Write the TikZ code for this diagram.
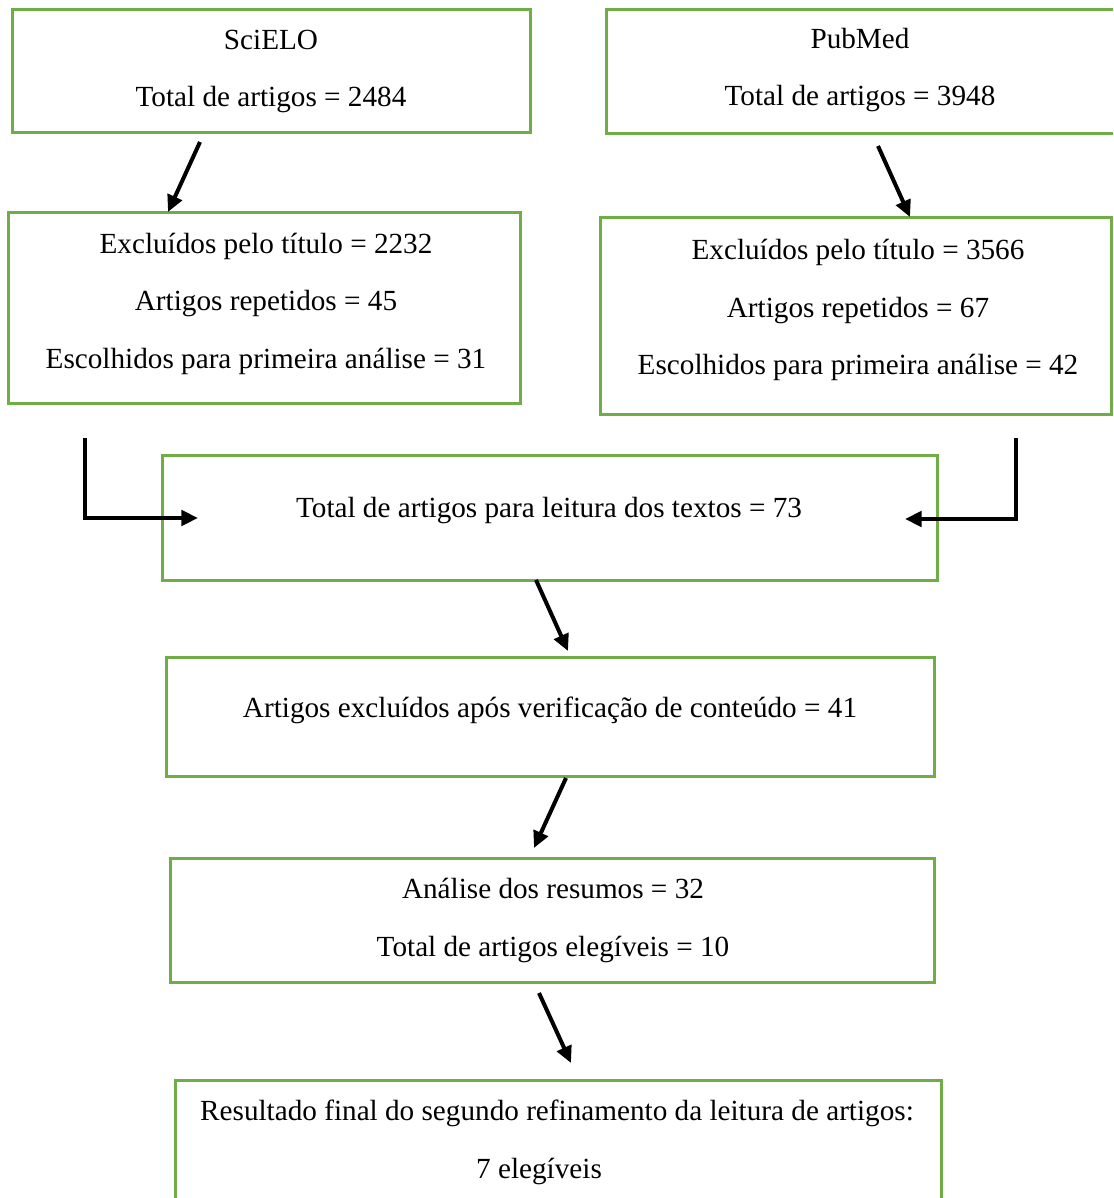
\documentclass[tikz,border=0pt]{standalone}
\usepackage{fontspec}
\setmainfont{Liberation Serif}
\usetikzlibrary{arrows.meta}
\definecolor{boxgreen}{HTML}{70AD47}
\begin{document}
\begin{tikzpicture}[x=0.75pt,y=-0.75pt,
  box/.style={draw=boxgreen, line width=2.25pt, rectangle, inner sep=0pt},
  txt/.style={font=\fontsize{21.9}{43.1}\selectfont, align=center, inner sep=0pt},
  arr/.style={line width=3pt, -{Triangle[length=12.5pt,width=11.5pt]}}]
\useasboundingbox (0,0) rectangle (1113,1198);
\clip (0,0) rectangle (1113,1198);
% boxes
\node[box, minimum width=518*0.75pt, minimum height=123*0.75pt] (scielo) at (271,71.5) {};
\node[box, minimum width=520*0.75pt, minimum height=124*0.75pt] (pubmed) at (866,72) {};
\node[box, minimum width=512*0.75pt, minimum height=190*0.75pt] (exclL) at (264,308) {};
\node[box, minimum width=511*0.75pt, minimum height=196*0.75pt] (exclR) at (855.5,316) {};
\node[box, minimum width=775*0.75pt, minimum height=125*0.75pt] (total) at (549.5,517.5) {};
\node[box, minimum width=768*0.75pt, minimum height=119*0.75pt] (conteudo) at (550,716.5) {};
\node[box, minimum width=764*0.75pt, minimum height=124*0.75pt] (resumos) at (552,920) {};
\node[box, minimum width=766*0.75pt, minimum height=130*0.75pt] (final) at (558,1145) {};
% texts
\node[txt] (t1) at (271,71.5) {SciELO\\Total de artigos = 2484};
\node[txt] (t2) at (860,70) {PubMed\\Total de artigos = 3948};
\node[txt] (t3) at (266,303.5) {Excluídos pelo título = 2232\\Artigos repetidos = 45\\Escolhidos para primeira análise = 31};
\node[txt] (t4) at (858,310) {Excluídos pelo título = 3566\\Artigos repetidos = 67\\Escolhidos para primeira análise = 42};
\node[txt] (t5) at (549,511) {Total de artigos para leitura dos textos = 73};
\node[txt] (t6) at (550,710) {Artigos excluídos após verificação de conteúdo = 41};
\node[txt] (t7) at (553,920.5) {Análise dos resumos = 32\\Total de artigos elegíveis = 10};
\node[txt] (t8) at (557,1142.5) {Resultado final do segundo refinamento da leitura de artigos:\\7 elegíveis\hspace*{27pt}};
% connector end points
\coordinate (a1s) at (200,142); \coordinate (a1e) at (168,212);
\coordinate (a2s) at (878,146); \coordinate (a2e) at (910,217);
\coordinate (a3s) at (85,438); \coordinate (a3c) at (85,518); \coordinate (a3e) at (198,518);
\coordinate (a4s) at (1016,438); \coordinate (a4c) at (1016,519); \coordinate (a4e) at (905,519);
\coordinate (a5s) at (536,580); \coordinate (a5e) at (568,651);
\coordinate (a6s) at (566,778); \coordinate (a6e) at (534,848);
\coordinate (a7s) at (539,993); \coordinate (a7e) at (571,1063);
% connectors
\draw[arr] (a1s) -- (a1e);
\draw[arr] (a2s) -- (a2e);
\draw[arr] (a3s) -- (a3c) -- (a3e);
\draw[arr] (a4s) -- (a4c) -- (a4e);
\draw[arr] (a5s) -- (a5e);
\draw[arr] (a6s) -- (a6e);
\draw[arr] (a7s) -- (a7e);
\end{tikzpicture}
\end{document}
